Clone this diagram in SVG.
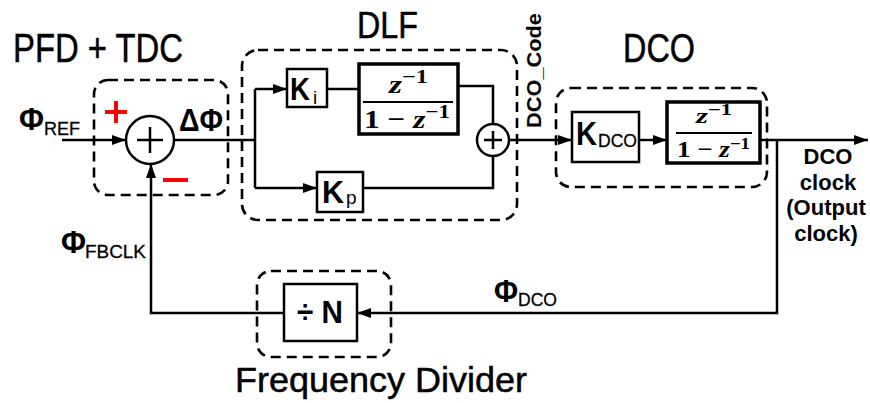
<svg xmlns="http://www.w3.org/2000/svg" width="870" height="403" viewBox="0 0 870 403">
<style>
text{font-family:"Liberation Sans",Arial,sans-serif;fill:#000}
.title{stroke:#000;stroke-width:0.5}
.dash{fill:none;stroke:#000;stroke-width:2.6;stroke-dasharray:10 6}
.box{fill:#fff;stroke:#000;stroke-width:2.5}
.fbox{fill:#fff;stroke:#000;stroke-width:3.5}
.wire{fill:none;stroke:#000;stroke-width:2.5}
.arr{marker-end:url(#ah)}
.sum{fill:#fff;stroke:#000;stroke-width:2.5}
.frac{font-family:"Liberation Serif","Times New Roman",serif;font-weight:bold}
.phi{font-weight:bold}
.sub{font-size:19px;stroke:#000;stroke-width:0.3}
.k{font-weight:bold}
.red{stroke:#ff0000;stroke-width:4;fill:none}
</style>
<defs>
<marker id="ah" viewBox="0 0 14 10" refX="14" refY="5" markerWidth="14" markerHeight="10" markerUnits="userSpaceOnUse" orient="auto">
<path d="M0,0 L14,5 L0,10 z" fill="#000"/>
</marker>
</defs>
<rect width="870" height="403" fill="#fff"/>

<g id="connectors">
<path class="wire arr" d="M62,140 H126"/>
<path class="wire" d="M174,140 H255"/>
<path class="wire" d="M255,89 V188"/>
<path class="wire arr" d="M255,89 H287"/>
<path class="wire arr" d="M255,188 H317"/>
<path class="wire" d="M327,89 H359"/>
<path class="wire" d="M458,86 H493 V124"/>
<path class="wire" d="M363,188 H493 V156"/>
<path class="wire arr" d="M509,140 H572"/>
<path class="wire arr" d="M639,140 H667"/>
<path class="wire arr" d="M760,140 H868"/>
<path class="wire arr" d="M777,140 V313 H357"/>
<path class="wire arr" d="M284,313 H151 V164"/>
</g>

<g id="pfd_tdc">
<rect class="dash" x="94" y="80" width="134" height="115" rx="14"/>
<text class="title" x="13" y="62" font-size="40" textLength="170" lengthAdjust="spacingAndGlyphs">PFD + TDC</text>
<circle class="sum" cx="150" cy="140" r="24"/>
<path class="wire" d="M137,140 H163 M150,127 V153"/>
<path class="red" d="M105,112 H127 M116,101 V123"/>
<path class="red" d="M163,180 H188"/>
<text class="phi" x="179" y="131" font-size="31" textLength="44" lengthAdjust="spacingAndGlyphs">ΔΦ</text>
</g>

<g id="input_label">
<text class="phi" x="19" y="130" font-size="31" textLength="25" lengthAdjust="spacingAndGlyphs">Φ</text>
<text class="sub" x="44" y="135" textLength="36" lengthAdjust="spacingAndGlyphs">REF</text>
</g>

<g id="dlf">
<rect class="dash" x="242" y="50" width="275" height="170" rx="16"/>
<text class="title" x="357" y="38" font-size="36" textLength="61" lengthAdjust="spacingAndGlyphs">DLF</text>
</g>

<g id="ki">
<rect class="box" x="287" y="69" width="40" height="38"/>
<text class="k" x="290" y="100" font-size="32" textLength="20" lengthAdjust="spacingAndGlyphs">K</text>
<text x="313" y="104" font-size="19">i</text>
</g>

<g id="integrator">
<rect class="fbox" x="359" y="64" width="99" height="70"/>
<text class="frac" x="389" y="93" font-size="26" textLength="39" lengthAdjust="spacingAndGlyphs"><tspan font-style="italic">z</tspan><tspan font-size="19" dy="-10">−1</tspan></text>
<line x1="363" y1="102" x2="453" y2="102" stroke="#000" stroke-width="2"/>
<text class="frac" x="364" y="128" font-size="26" textLength="86" lengthAdjust="spacingAndGlyphs">1 − <tspan font-style="italic">z</tspan><tspan font-size="19" dy="-10">−1</tspan></text>
</g>

<g id="kp">
<rect class="box" x="317" y="172" width="46" height="40"/>
<text class="k" x="322" y="203" font-size="32" textLength="22" lengthAdjust="spacingAndGlyphs">K</text>
<text x="346" y="204" font-size="19">p</text>
</g>

<g id="dlf_sum">
<circle class="sum" cx="493" cy="140" r="16"/>
<path class="wire" d="M484,140 H502 M493,131 V149"/>
</g>

<g id="dco_code_label">
<text x="0" y="0" transform="translate(541,128) rotate(-90)" font-size="20" font-weight="bold" textLength="115" lengthAdjust="spacingAndGlyphs">DCO_Code</text>
</g>

<g id="dco">
<rect class="dash" x="556" y="88" width="211" height="99" rx="15"/>
<text class="title" x="623" y="62" font-size="40" textLength="72" lengthAdjust="spacingAndGlyphs">DCO</text>
</g>

<g id="kdco">
<rect class="box" x="572" y="112" width="67" height="50"/>
<text class="k" x="576" y="145" font-size="34" textLength="21" lengthAdjust="spacingAndGlyphs">K</text>
<text class="sub" x="598" y="147" textLength="39" lengthAdjust="spacingAndGlyphs">DCO</text>
</g>

<g id="dco_integrator">
<rect class="fbox" x="667" y="102" width="93" height="61"/>
<text class="frac" x="696" y="123" font-size="22" textLength="36" lengthAdjust="spacingAndGlyphs"><tspan font-style="italic">z</tspan><tspan font-size="16" dy="-8">−1</tspan></text>
<line x1="676" y1="133" x2="752" y2="133" stroke="#000" stroke-width="2"/>
<text class="frac" x="677" y="157" font-size="23" textLength="73" lengthAdjust="spacingAndGlyphs">1 − <tspan font-style="italic">z</tspan><tspan font-size="16" dy="-8">−1</tspan></text>
</g>

<g id="output_label" font-weight="bold" font-size="22">
<text x="828" y="164" text-anchor="middle">DCO</text>
<text x="828" y="190" text-anchor="middle">clock</text>
<text x="826" y="215" text-anchor="middle">(Output</text>
<text x="826" y="241" text-anchor="middle">clock)</text>
</g>

<g id="fbclk_label">
<text class="phi" x="61" y="253" font-size="31" textLength="25" lengthAdjust="spacingAndGlyphs">Φ</text>
<text class="sub" x="85" y="258" textLength="61" lengthAdjust="spacingAndGlyphs">FBCLK</text>
</g>

<g id="phi_dco_label">
<text class="phi" x="494" y="302" font-size="31" textLength="24" lengthAdjust="spacingAndGlyphs">Φ</text>
<text class="sub" x="518" y="306" textLength="39" lengthAdjust="spacingAndGlyphs">DCO</text>
</g>

<g id="divider">
<rect class="dash" x="257" y="271" width="134" height="86" rx="14"/>
<rect class="box" x="284" y="284" width="73" height="57"/>
<text x="297" y="323" font-size="32" font-weight="bold" textLength="46" lengthAdjust="spacingAndGlyphs">÷ N</text>
<text class="title" x="235" y="392" font-size="35" textLength="292" lengthAdjust="spacingAndGlyphs">Frequency Divider</text>
</g>
</svg>
